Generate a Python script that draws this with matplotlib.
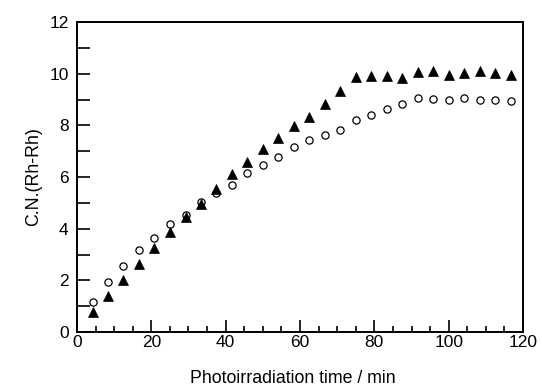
import matplotlib
matplotlib.use("Agg")
import matplotlib.pyplot as plt
from matplotlib.ticker import MultipleLocator, FuncFormatter

plt.rcParams['font.family'] = ['Liberation Sans', 'DejaVu Sans']

# Irradiation times (min), sampled every 250 s
time_min = [4.2, 8.3, 12.5, 16.7, 20.8, 25.0, 29.2, 33.3, 37.5, 41.7,
            45.8, 50.0, 54.2, 58.3, 62.5, 66.7, 70.8, 75.0, 79.2, 83.3,
            87.5, 91.7, 95.8, 100.0, 104.2, 108.3, 112.5, 116.7]

# Rh-Rh coordination numbers, filled triangles
cn_triangle = [0.77, 1.40, 2.00, 2.65, 3.26, 3.86, 4.47, 4.94, 5.53, 6.10,
               6.58, 7.07, 7.53, 7.97, 8.34, 8.84, 9.33, 9.87, 9.90, 9.90,
               9.85, 10.08, 10.09, 9.96, 10.04, 10.09, 10.03, 9.96]

# Rh-Rh coordination numbers, open circles
cn_circle = [1.18, 1.92, 2.57, 3.18, 3.64, 4.18, 4.54, 5.05, 5.37, 5.70,
             6.14, 6.45, 6.76, 7.16, 7.45, 7.63, 7.84, 8.20, 8.42, 8.62,
             8.83, 9.05, 9.03, 8.98, 9.06, 8.98, 8.97, 8.96]

x_label = "Photoirradiation time / min"
y_label = "C.N.(Rh-Rh)"

fig = plt.figure(figsize=(5.42, 3.87), dpi=100)
ax = fig.add_axes([0.142, 0.142, 0.823, 0.801])

ax.plot(time_min, cn_circle, linestyle='none', marker='o', markersize=5.2,
        markerfacecolor='white', markeredgecolor='black', markeredgewidth=0.9)
ax.plot(time_min, cn_triangle, linestyle='none', marker='^', markersize=7.2,
        markerfacecolor='black', markeredgecolor='black', markeredgewidth=0.5)

ax.set_xlim(0, 120)
ax.set_ylim(0, 12)

ax.xaxis.set_major_locator(MultipleLocator(20))
ax.xaxis.set_minor_locator(MultipleLocator(5))
ax.yaxis.set_major_locator(MultipleLocator(1))
ax.yaxis.set_major_formatter(
    FuncFormatter(lambda v, p: f"{int(round(v))}" if int(round(v)) % 2 == 0 else ""))

ax.tick_params(axis='x', which='major', direction='in', length=9, width=1.2,
               labelsize=12.5, pad=2, top=False)
ax.tick_params(axis='x', which='minor', direction='in', length=4.5, width=1.2, top=False)
ax.tick_params(axis='y', which='major', direction='in', length=9, width=1.2,
               labelsize=12.5, pad=6, right=False)

for s in ax.spines.values():
    s.set_linewidth(1.4)

ax.set_xlabel(x_label, fontsize=12.8)
ax.set_ylabel(y_label, fontsize=12.8, labelpad=5)
ax.xaxis.set_label_coords(0.485, -0.123)

fig.savefig("out.png", dpi=100)
